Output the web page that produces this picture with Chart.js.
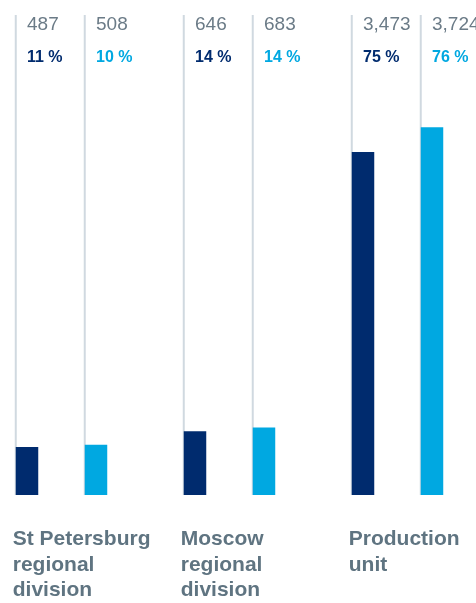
<!DOCTYPE html>
<html>
<head>
<meta charset="utf-8">
<script src="https://cdn.jsdelivr.net/npm/chart.js@4/dist/chart.umd.min.js"></script>
<style>
  html, body { margin: 0; padding: 0; background: #ffffff; }
  #wrap { position: relative; width: 476px; height: 603px; }
</style>
</head>
<body>
<div id="wrap"><canvas id="chart"></canvas></div>
<script>
// Headcount by division, two reporting years
const categories = [
  ['St Petersburg', 'regional', 'division'],
  ['Moscow', 'regional', 'division'],
  ['Production', 'unit']
];
const priorYear = [487, 646, 3473];
const currentYear = [508, 683, 3724];
const priorShare = [11, 14, 75];
const currentShare = [10, 14, 76];
const shares = [priorShare, currentShare];

const NAVY = '#002b6e';
const CYAN = '#00a8e1';
const GUIDE = '#d0d9e0';
const VALUE_GREY = '#6b7b87';
const LABEL_GREY = '#5f7481';

// thin vertical guide behind every bar, running the full plot height
const guideLines = {
  id: 'guideLines',
  beforeDatasetsDraw(chart) {
    const { ctx, chartArea } = chart;
    ctx.save();
    ctx.strokeStyle = GUIDE;
    ctx.lineWidth = 2;
    chart.data.datasets.forEach((ds, di) => {
      chart.getDatasetMeta(di).data.forEach(bar => {
        const x = bar.x - bar.width / 2;
        ctx.beginPath();
        ctx.moveTo(x, chartArea.top);
        ctx.lineTo(x, chartArea.bottom);
        ctx.stroke();
      });
    });
    ctx.restore();
  }
};

// value and share printed at the top of each guide
const topLabels = {
  id: 'topLabels',
  afterDatasetsDraw(chart) {
    const { ctx, chartArea } = chart;
    ctx.save();
    ctx.textAlign = 'left';
    ctx.textBaseline = 'alphabetic';
    chart.data.datasets.forEach((ds, di) => {
      chart.getDatasetMeta(di).data.forEach((bar, i) => {
        ctx.fillStyle = VALUE_GREY;
        ctx.font = '19px "Liberation Sans", Arial, sans-serif';
        ctx.fillText(ds.data[i].toLocaleString('en-US'), bar.x, chartArea.top + 15);
        ctx.fillStyle = ds.backgroundColor;
        ctx.font = 'bold 16px "Liberation Sans", Arial, sans-serif';
        ctx.fillText(shares[di][i] + ' %', bar.x, chartArea.top + 47);
      });
    });
    ctx.restore();
  }
};

// multi-line category names under each pair of bars
const categoryLabels = {
  id: 'categoryLabels',
  afterDraw(chart) {
    const { ctx, chartArea } = chart;
    const bars = chart.getDatasetMeta(0).data;
    ctx.save();
    ctx.fillStyle = LABEL_GREY;
    ctx.font = 'bold 21px "Liberation Sans", Arial, sans-serif';
    ctx.textAlign = 'left';
    ctx.textBaseline = 'alphabetic';
    chart.data.labels.forEach((lines, i) => {
      const bar = bars[i];
      const x = bar.x - bar.width / 2 - 3;
      lines.forEach((line, li) => {
        ctx.fillText(line, x, chartArea.bottom + 50 + li * 25.5);
      });
    });
    ctx.restore();
  }
};

new Chart(document.getElementById('chart'), {
  type: 'bar',
  data: {
    labels: categories,
    datasets: [
      { label: 'Prior year', data: priorYear, backgroundColor: NAVY },
      { label: 'Current year', data: currentYear, backgroundColor: CYAN }
    ]
  },
  options: {
    responsive: true,
    maintainAspectRatio: false,
    animation: false,
    layout: { padding: { left: 61.5, right: 78.5, top: 15, bottom: 108 } },
    datasets: {
      bar: {
        categoryPercentage: 0.8214,
        barPercentage: 0.326,
        clip: false,
        borderWidth: 0
      }
    },
    scales: {
      x: { display: false, offset: false },
      y: { display: false, min: 0, max: 4860 }
    },
    plugins: {
      legend: { display: false },
      tooltip: { enabled: false }
    }
  },
  plugins: [guideLines, topLabels, categoryLabels]
});
</script>
</body>
</html>
